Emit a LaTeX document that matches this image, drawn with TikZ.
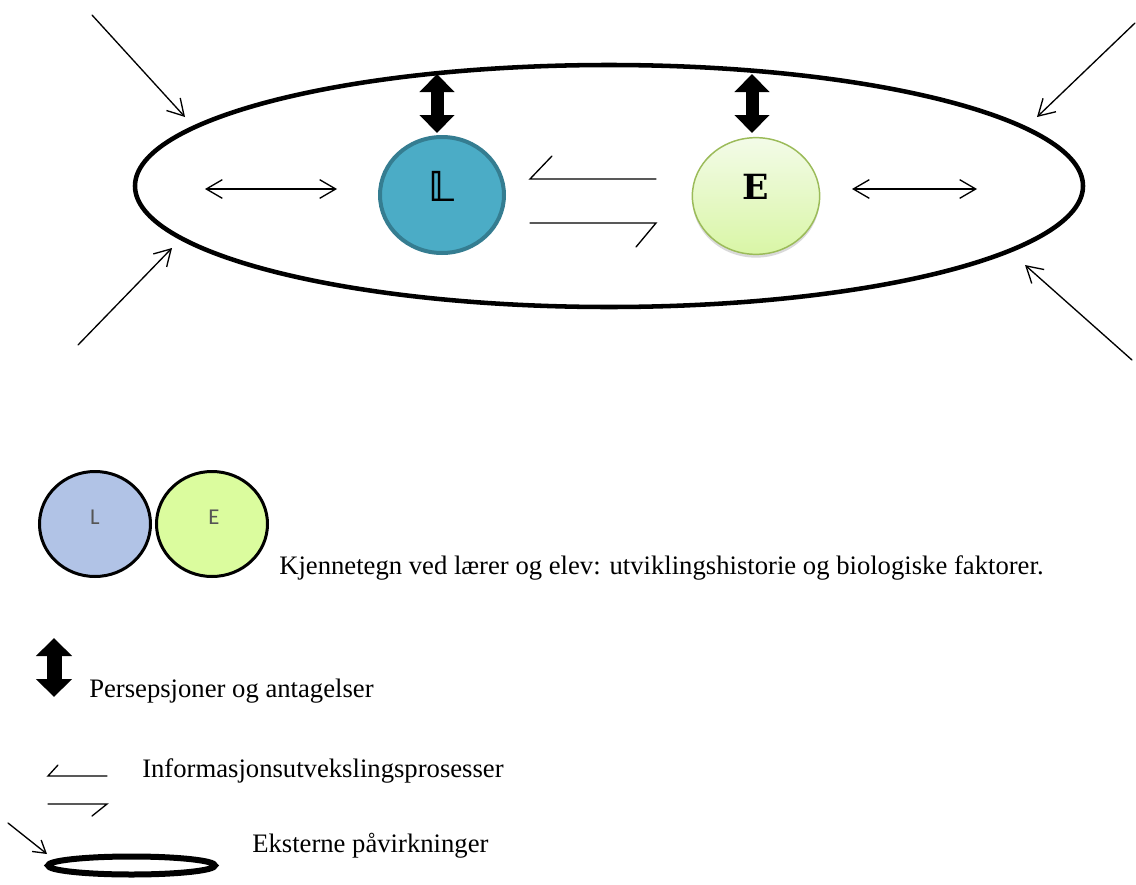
\documentclass[tikz,border=0pt]{standalone}
\usepackage{fontspec}
\setmainfont{Liberation Serif}
\newfontfamily\serifbold{DejaVu Serif}
\newfontfamily\dsfont{DejaVu Sans}
\newfontfamily\calibfnt{Carlito}
\usetikzlibrary{arrows.meta,shapes.geometric,shadows}
\definecolor{Lfill}{HTML}{4BACC6}
\definecolor{Ldraw}{HTML}{357D91}
\definecolor{Etop}{HTML}{F3FBE8}
\definecolor{Ebot}{HTML}{D9F6A6}
\definecolor{Edraw}{HTML}{9BBB59}
\definecolor{legL}{HTML}{B1C3E6}
\definecolor{legE}{HTML}{DBFC9E}
\definecolor{leggray}{HTML}{555555}
\tikzset{
  thinline/.style={line width=1pt, line cap=round, line join=miter},
  barbtip/.style={-{Straight Barb[length=12pt,width=14pt,line width=1pt]}},
  dblbarb/.style={{Straight Barb[length=12pt,width=14pt,line width=1pt]}-{Straight Barb[length=12pt,width=14pt,line width=1pt]}},
  bigdbl/.style={line width=9.75pt, {Triangle[length=13.5pt,width=25.5pt]}-{Triangle[length=13.5pt,width=25.5pt]}},
  legtext/.style={anchor=base west, inner sep=0pt, font=\fontsize{20pt}{24pt}\selectfont},
  circL/.style={ellipse, draw=Ldraw, fill=Lfill, line width=3pt, minimum width=93pt, minimum height=87pt, inner sep=0pt},
  circE/.style={ellipse, draw=Edraw, top color=Etop, bottom color=Ebot, line width=1.1pt, minimum width=95.5pt, minimum height=87.5pt, inner sep=0pt,
     drop shadow={shadow xshift=0pt, shadow yshift=-2.5pt, opacity=0.15, fill=black}},
  legcirc/.style={ellipse, draw=black, line width=2.25pt, minimum width=83.25pt, minimum height=78.75pt, inner sep=0pt}
}
\begin{document}
\begin{tikzpicture}[x=0.75pt,y=-0.75pt]
\useasboundingbox (0,0) rectangle (1136,885);
% environment ellipse
\draw[line width=3.4pt] (609,186) ellipse [x radius=474, y radius=121];
% external arrows
\coordinate (tl0) at (92,15);   \coordinate (tl1) at (185,117);
\coordinate (bl0) at (78,345);  \coordinate (bl1) at (172,248);
\coordinate (tr0) at (1135,23); \coordinate (tr1) at (1037,117);
\coordinate (br0) at (1132,360);\coordinate (br1) at (1025,265);
\draw[thinline, barbtip] (tl0) -- (tl1);
\draw[thinline, barbtip] (bl0) -- (bl1);
\draw[thinline, barbtip] (tr0) -- (tr1);
\draw[thinline, barbtip] (br0) -- (br1);
% L and E
\node[circL] (L) at (442,195) {};
\node[font=\fontsize{31pt}{31pt}\selectfont\dsfont\bfseries] (Lt) at (442,186) {𝕃};
\node[circE] (E) at (756,196) {};
\node[font=\fontsize{26pt}{26pt}\selectfont\serifbold\bfseries] (Et) at (756,187) {E};
% perspectives arrows
\coordinate (pa0) at (437,74); \coordinate (pa1) at (437,133);
\coordinate (pb0) at (752,74); \coordinate (pb1) at (752,133);
\draw[bigdbl] (pa0) -- (pa1);
\draw[bigdbl] (pb0) -- (pb1);
% inner horizontal arrows
\coordinate (hl0) at (205,189); \coordinate (hl1) at (337,189);
\coordinate (hr0) at (852,189); \coordinate (hr1) at (977,189);
\draw[thinline, dblbarb] (hl0) -- (hl1);
\draw[thinline, dblbarb] (hr0) -- (hr1);
% exchange harpoons
\coordinate (u0) at (552,156); \coordinate (u1) at (530,179); \coordinate (u2) at (656,179);
\coordinate (d0) at (530,223); \coordinate (d1) at (656,223); \coordinate (d2) at (636,247);
\draw[thinline] (u0) -- (u1) -- (u2);
\draw[thinline] (d0) -- (d1) -- (d2);
% ---------- legend ----------
\node[legcirc, fill=legL] (lL) at (95,524) {};
\node[legcirc, fill=legE] (lE) at (212,524) {};
\node[font=\fontsize{17pt}{17pt}\selectfont\calibfnt, text=leggray] at (95,517) {L};
\node[font=\fontsize{17pt}{17pt}\selectfont\calibfnt, text=leggray] at (214,517) {E};
\node[legtext] (t1) at (279,574) {Kjennetegn ved lærer og elev: utviklingshistorie og biologiske faktorer.};
\coordinate (la0) at (54,638); \coordinate (la1) at (54,697);
\draw[line width=11.25pt, {Triangle[length=13.5pt,width=26.25pt]}-{Triangle[length=13.5pt,width=26.25pt]}] (la0) -- (la1);
\node[legtext] (t2) at (89,697) {Persepsjoner og antagelser};
\coordinate (lu0) at (58,765); \coordinate (lu1) at (48,776); \coordinate (lu2) at (107,776);
\coordinate (ld0) at (48,804); \coordinate (ld1) at (107,804); \coordinate (ld2) at (92,816);
\draw[thinline] (lu0) -- (lu1) -- (lu2);
\draw[thinline] (ld0) -- (ld1) -- (ld2);
\node[legtext] (t3) at (142,777) {Informasjonsutvekslingsprosesser};
\coordinate (ls0) at (8,823); \coordinate (ls1) at (47,854);
\draw[thinline, -{Straight Barb[length=9pt,width=11pt,line width=1pt]}] (ls0) -- (ls1);
\draw[line width=4.5pt] (131.5,865.5) ellipse [x radius=83.5, y radius=9];
\node[legtext] (t4) at (252,852) {Eksterne påvirkninger};
\end{tikzpicture}
\end{document}
